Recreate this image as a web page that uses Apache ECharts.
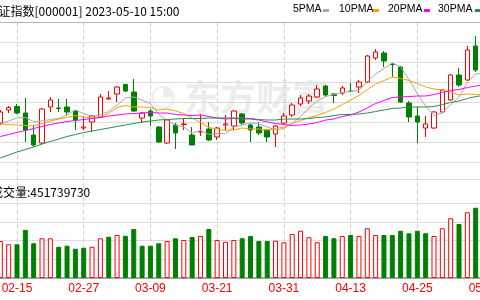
<!DOCTYPE html>
<html><head><meta charset="utf-8">
<script src="https://cdn.jsdelivr.net/npm/echarts@6/dist/echarts.min.js"></script>
<style>html,body{margin:0;padding:0;background:#fff}#c{width:480px;height:300px}</style>
</head><body><div id="c"></div>
<script>
const dates = ['02-13','02-14','02-15','02-16','02-17','02-20','02-21','02-22','02-23','02-24','02-27','02-28','03-01','03-02','03-03','03-06','03-07','03-08','03-09','03-10','03-13','03-14','03-15','03-16','03-17','03-20','03-21','03-22','03-23','03-24','03-27','03-28','03-29','03-30','03-31','04-03','04-04','04-06','04-07','04-10','04-11','04-12','04-13','04-14','04-17','04-18','04-19','04-20','04-21','04-24','04-25','04-26','04-27','04-28','05-04','05-05','05-08','05-09','05-10'];
const tickLabels = ['02-15','02-27','03-09','03-21','03-31','04-13','04-25','05-10'];
// [open, close, low, high]
const ohlc = [
[3198,3220,3194,3224],[3224,3229,3218,3232],[3231,3218,3216,3236],[3218,3184,3160,3248],[3174,3154,3150,3194],
[3158,3226,3156,3228],[3230,3244,3220,3250],[3228,3227,3220,3246],[3230,3220,3214,3246],[3222,3204,3184,3224],
[3188,3190,3184,3210],[3200,3212,3180,3214],[3210,3250,3208,3256],[3246,3248,3244,3262],[3256,3270,3240,3272],
[3275,3262,3260,3276],[3260,3222,3220,3286],[3208,3218,3198,3220],[3222,3212,3192,3226],[3190,3160,3158,3192],
[3158,3204,3156,3206],[3194,3178,3146,3198],[3195,3196,3184,3208],[3174,3154,3154,3190],[3180,3181,3172,3216],
[3186,3164,3162,3200],[3170,3188,3164,3190],[3194,3196,3184,3214],[3192,3222,3184,3224],[3216,3198,3194,3218],
[3194,3184,3160,3196],[3190,3178,3174,3200],[3184,3170,3160,3186],[3176,3192,3150,3194],[3198,3212,3196,3218],
[3214,3234,3210,3238],[3236,3248,3232,3254],[3242,3252,3236,3256],[3250,3266,3248,3274],[3272,3254,3250,3274],
[3256,3253,3238,3258],[3258,3268,3254,3272],[3262,3261,3260,3278],[3270,3280,3258,3284],[3280,3332,3278,3334],
[3328,3340,3324,3346],[3338,3322,3310,3342],[3316,3315,3290,3318],[3310,3240,3238,3312],[3238,3210,3200,3242],
[3212,3200,3158,3230],[3188,3196,3170,3212],[3188,3220,3186,3222],[3220,3264,3220,3266],[3244,3294,3242,3296],
[3294,3274,3270,3308],[3284,3344,3282,3352],[3352,3304,3300,3372],[3300,3292,3280,3310]
];
const ma5 = [3196,3202,3208,3209,3201,3202,3205,3207,3214,3224,3217,3211,3215,3221,3234,3248,3250,3244,3237,3215,3203,3194,3190,3178,3183,3175,3177,3177,3190,3194,3198,3196,3190,3184,3187,3197,3211,3228,3242,3251,3255,3259,3261,3264,3280,3296,3307,3318,3310,3285,3257,3232,3213,3218,3235,3250,3279,3296,3298];
const ma10 = [3196,3195,3194,3193,3192,3197,3202,3206,3209,3213,3210,3208,3211,3217,3229,3233,3230,3230,3229,3224,3226,3222,3217,3208,3199,3189,3186,3183,3184,3188,3186,3186,3184,3187,3190,3197,3203,3209,3213,3219,3226,3235,3244,3253,3265,3276,3283,3290,3287,3283,3277,3270,3266,3264,3260,3254,3256,3255,3256];
const ma20 = [3171,3175,3179,3183,3187,3191,3195,3198,3201,3203,3205,3207,3209,3212,3214,3216,3217,3218,3219,3218,3218,3215,3214,3213,3214,3211,3208,3206,3207,3206,3206,3204,3200,3197,3195,3193,3194,3196,3199,3204,3206,3211,3214,3220,3228,3237,3243,3249,3250,3251,3252,3252,3255,3259,3263,3265,3269,3272,3274];
const ma30 = [3128,3134,3140,3145,3150,3156,3161,3166,3171,3175,3179,3182,3185,3188,3191,3194,3197,3200,3202,3204,3205,3206,3207,3207,3207,3208,3208,3208,3208,3208,3207,3205,3204,3204,3206,3206,3206,3207,3209,3210,3213,3215,3215,3216,3218,3221,3224,3227,3228,3230,3230,3230,3231,3235,3239,3242,3247,3251,3253];
// volume, millions
const volumes = [296,270,270,384,278,318,318,250,258,234,242,250,318,330,344,338,392,258,258,278,296,318,304,328,336,392,304,290,304,318,336,296,296,298,286,352,378,326,286,336,318,336,344,336,398,344,344,344,378,358,378,358,336,398,478,432,526,562,452];
// 1 = close above previous close (red), -1 = below (green)
const volDir = [1,1,-1,-1,-1,1,1,-1,-1,-1,-1,1,1,-1,1,-1,-1,-1,-1,-1,1,-1,1,-1,1,-1,1,1,1,-1,-1,-1,-1,1,1,1,1,1,1,-1,-1,1,-1,1,1,1,-1,-1,-1,-1,-1,-1,1,1,1,-1,1,-1,-1];
const volLabel = '451739730';
const titleText = '上证指数[000001] 2023-05-10 15:00';
const maNames = ['5PMA','10PMA','20PMA','30PMA'];
const maColors = ['#a8a8a8','#f5a300','#ff00ff','#2e8b57'];

const RED = '#ff0000', GREEN = '#008000';
const GL = 0.32, GW = 483.72;
const isTick = (i, v) => tickLabels.indexOf(v) >= 0;
function xa(gi, showLabel) {
  return {
    type: 'category', gridIndex: gi, data: dates, boundaryGap: false,
    axisLine: { show: gi === 1, lineStyle: { color: '#8c8c8c', width: 1.5 } },
    axisTick: { show: false },
    axisLabel: { show: showLabel, interval: isTick, color: RED, fontSize: 12, fontFamily: 'Liberation Sans', margin: 5 },
    splitLine: { show: true, interval: isTick, lineStyle: { color: '#cfcfcf', type: [4, 3], width: 1 } }
  };
}
function ya(gi, min, max, interval) {
  return {
    type: 'value', gridIndex: gi, min, max, interval, scale: false,
    axisLine: { show: false }, axisTick: { show: false }, axisLabel: { show: false },
    splitLine: { show: true, lineStyle: { color: '#dcdcdc', width: 1 } }
  };
}
const chart = echarts.init(document.getElementById('c'), null, { renderer: 'canvas' });
const legendPos = [[293, 323], [339, 373], [388, 424], [438, 475]];
const graphics = [
  { type: 'text', x: 150, y: 97, z: -10, silent: true, style: { text: '◔', font: 'bold 30px "DejaVu Sans"', fill: '#ececec', verticalAlign: 'middle' } },
  { type: 'text', x: 184, y: 97, z: -10, silent: true, style: { text: '东方财富', font: 'bold 36px "Noto Sans CJK SC"', fill: '#ececec', verticalAlign: 'middle' } },
  { type: 'text', x: -13.5, y: 11, style: { text: titleText, font: '12px "Noto Sans CJK SC"', fill: '#000', verticalAlign: 'middle' } },
  { type: 'text', x: -9, y: 192, style: { text: '成交量:' + volLabel, font: '12px "Noto Sans CJK SC"', fill: '#000', verticalAlign: 'middle' } },
  { type: 'line', z: 5, shape: { x1: 0, y1: 22.5, x2: 480, y2: 22.5 }, style: { stroke: '#b4b4b4', lineWidth: 1 } }
];
maNames.forEach((n, k) => {
  graphics.push({ type: 'text', x: legendPos[k][0], y: 9.5, style: { text: n, font: '10.5px "Liberation Sans"', fill: '#000', verticalAlign: 'middle' } });
  graphics.push({ type: 'rect', shape: { x: legendPos[k][1], y: 9, width: 6, height: 3 }, style: { fill: maColors[k] } });
});
const mas = [ma5, ma10, ma20, ma30];
const series = [{
  type: 'candlestick', xAxisIndex: 0, yAxisIndex: 0, data: ohlc, barWidth: 5, clip: false,
  itemStyle: { color: '#fff', color0: GREEN, borderColor: RED, borderColor0: GREEN, borderWidth: 1 }
}];
mas.forEach((m, k) => series.push({
  type: 'line', name: maNames[k], xAxisIndex: 0, yAxisIndex: 0, data: m, symbol: 'none', smooth: false, clip: false,
  lineStyle: { color: maColors[k], width: 1 }
}));
series.push({
  type: 'bar', xAxisIndex: 1, yAxisIndex: 1, barWidth: 5, clip: false,
  data: volumes.map((v, i) => ({
    value: v,
    itemStyle: volDir[i] > 0 ? { color: '#fff', borderColor: RED, borderWidth: 1 } : { color: GREEN, borderColor: GREEN, borderWidth: 1 }
  }))
});
chart.setOption({
  animation: false,
  backgroundColor: '#fff',
  grid: [
    { left: GL, width: GW, top: 22, height: 140, outerBoundsMode: 'none', containLabel: false },
    { left: GL, width: GW, top: 203, height: 75, outerBoundsMode: 'none', containLabel: false },
    { left: GL, width: GW, top: 162, height: 41, outerBoundsMode: 'none', containLabel: false }
  ],
  xAxis: [xa(0, false), xa(1, true), xa(2, false)],
  yAxis: [ya(0, 3120, 3400, 40), ya(1, 0, 600, 150), ya(2, 0, 41, 24)],
  graphic: graphics,
  series
});
</script></body></html>
